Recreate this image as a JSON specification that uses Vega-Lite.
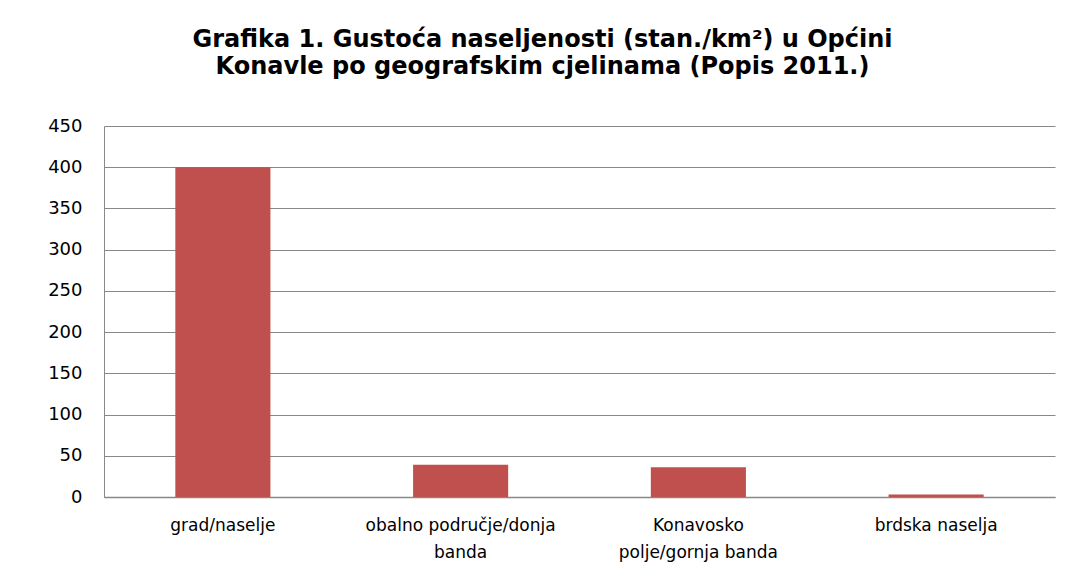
{
  "$schema": "https://vega.github.io/schema/vega-lite/v6.json",
  "width": 951,
  "height": 371,
  "autosize": {"type": "none"},
  "padding": {"left": 104, "top": 126, "right": 28, "bottom": 87},
  "background": "white",
  "title": {
    "text": ["Grafika 1. Gustoća naseljenosti (stan./km²) u Općini", "Konavle po geografskim cjelinama (Popis 2011.)"],
    "font": "DejaVu Sans",
    "fontSize": 24,
    "fontWeight": "bold",
    "color": "#000000",
    "lineHeight": 27,
    "anchor": "middle",
    "dx": -37,
    "offset": 38
  },
  "data": {
    "values": [
      {"cjelina": "grad/naselje", "gustoca": 400},
      {"cjelina": "obalno područje/donja|banda", "gustoca": 39},
      {"cjelina": "Konavosko|polje/gornja banda", "gustoca": 36},
      {"cjelina": "brdska naselja", "gustoca": 3}
    ]
  },
  "mark": {"type": "bar", "color": "#C0504D"},
  "encoding": {
    "x": {
      "field": "cjelina",
      "type": "nominal",
      "sort": null,
      "scale": {"paddingInner": 0.6, "paddingOuter": 0.3},
      "axis": {
        "title": null,
        "labelAngle": 0,
        "labelExpr": "split(datum.label, '|')",
        "labelFont": "DejaVu Sans",
        "labelFontSize": 17,
        "labelColor": "#000000",
        "labelPadding": 20,
        "labelLineHeight": 27,
        "labelLimit": 400,
        "ticks": false,
        "domainColor": "#888888",
        "domainWidth": 1.5
      }
    },
    "y": {
      "field": "gustoca",
      "type": "quantitative",
      "scale": {"domain": [0, 450], "nice": false},
      "axis": {
        "title": null,
        "values": [0, 50, 100, 150, 200, 250, 300, 350, 400, 450],
        "labelFont": "DejaVu Sans",
        "labelFontSize": 18,
        "labelColor": "#000000",
        "labelPadding": 22,
        "ticks": false,
        "grid": true,
        "gridColor": "#888888",
        "gridWidth": 1,
        "domainColor": "#888888",
        "domainWidth": 1
      }
    }
  },
  "config": {
    "view": {"stroke": null}
  }
}
